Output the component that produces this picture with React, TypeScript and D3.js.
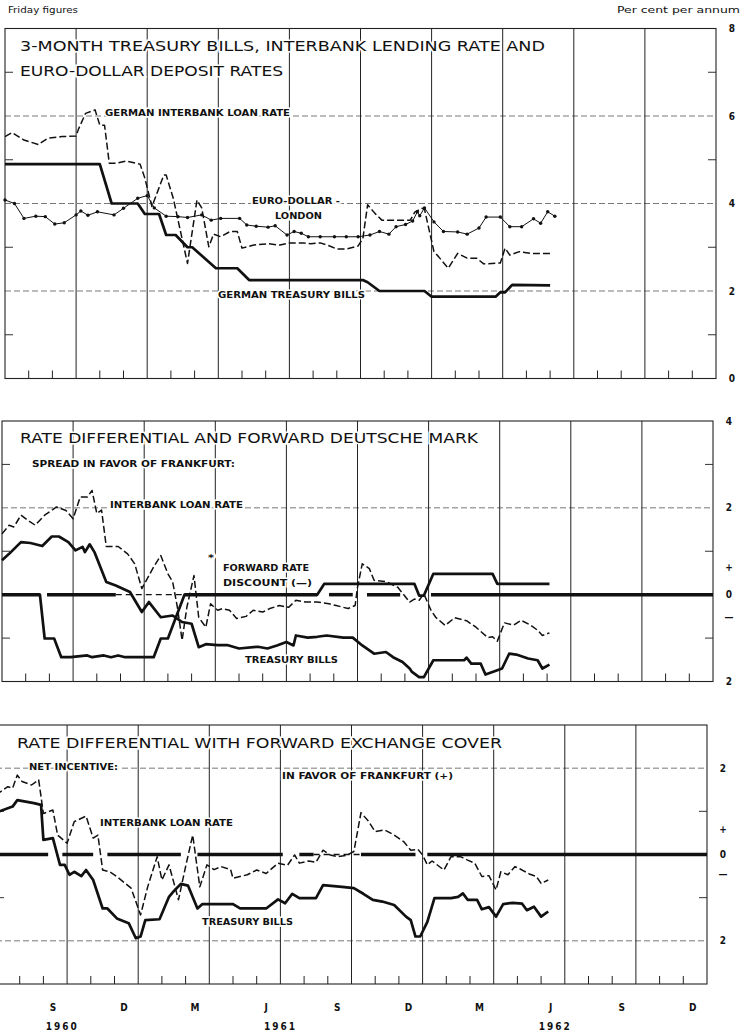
import React from "react";
import * as d3 from "d3";

// all series: [months since 1 July 1960, per cent]
const p1Interbank = [[0,5.53],[0.3,5.62],[0.8,5.45],[1.4,5.35],[1.8,5.49],[2.4,5.53],[3.0,5.54],[3.1,5.7],[3.4,6.06],[3.8,6.14],[4.0,5.79],[4.2,5.79],[4.4,4.92],[4.7,4.92],[5.1,4.97],[5.7,4.9],[5.9,4.58],[6.2,3.93],[6.7,4.65],[6.8,4.65],[7.1,4.12],[7.7,2.63],[8.1,4.08],[8.3,3.9],[8.6,3.01],[8.8,3.3],[9.1,3.24],[9.5,3.36],[9.8,3.36],[10.0,2.98],[10.5,3.05],[11.1,3.08],[11.6,3.05],[12.0,3.1],[12.6,3.1],[12.9,3.08],[13.3,3.1],[13.7,3.03],[14.0,2.96],[14.4,2.96],[14.9,3.03],[15.1,3.2],[15.3,3.97],[15.6,3.78],[15.9,3.62],[16.5,3.62],[17.1,3.62],[17.3,3.81],[17.6,3.89],[17.7,3.87],[18.1,2.9],[18.3,2.78],[18.7,2.52],[19.1,2.86],[19.5,2.75],[19.9,2.75],[20.2,2.62],[20.9,2.64],[21.1,2.98],[21.3,2.82],[21.7,2.9],[22.2,2.86],[23.0,2.86]];
const p1EuroDollar = [[0,4.08],[0.4,4.0],[0.8,3.66],[1.3,3.71],[1.7,3.7],[2.1,3.53],[2.5,3.56],[3.0,3.74],[3.2,3.83],[3.5,3.73],[3.9,3.81],[4.6,3.74],[5.0,3.89],[5.6,4.12],[6.0,4.18],[6.3,3.9],[6.8,3.71],[7.3,3.7],[7.7,3.68],[8.3,3.74],[8.7,3.62],[9.1,3.66],[9.9,3.66],[10.2,3.51],[10.6,3.48],[11.1,3.46],[11.4,3.49],[11.9,3.28],[12.2,3.36],[12.5,3.32],[12.8,3.24],[13.3,3.24],[13.9,3.24],[14.4,3.24],[14.9,3.24],[15.4,3.28],[15.8,3.36],[16.2,3.3],[16.5,3.47],[16.9,3.52],[17.2,3.6],[17.4,3.81],[17.5,3.72],[17.7,3.9],[18.1,3.58],[18.5,3.36],[19.1,3.35],[19.5,3.3],[20.0,3.44],[20.3,3.69],[20.9,3.69],[21.3,3.47],[21.8,3.47],[22.3,3.65],[22.6,3.55],[22.9,3.81],[23.2,3.71]];
const p1TreasuryBills = [[0,4.9],[4.0,4.9],[4.5,4.0],[5.6,4.0],[5.9,3.76],[6.5,3.76],[6.8,3.28],[7.2,3.28],[7.7,3.0],[7.9,3.0],[8.9,2.52],[9.8,2.52],[10.3,2.25],[15.1,2.25],[15.3,2.2],[15.8,2.0],[17.7,2.0],[18.0,1.87],[20.7,1.87],[20.9,1.97],[21.1,1.97],[21.4,2.14],[23.0,2.13]];

const p2Interbank = [[0,1.4],[0.3,1.6],[0.5,1.56],[0.8,1.83],[1.1,1.71],[1.4,1.6],[1.8,1.83],[2.3,2.02],[2.7,1.94],[3.0,1.75],[3.3,2.25],[3.6,2.25],[3.8,2.4],[4.0,1.87],[4.2,1.95],[4.4,1.11],[4.9,1.11],[5.3,0.94],[5.6,0.71],[5.9,0.14],[6.4,0.64],[6.7,0.9],[7.0,0.48],[7.2,0.3],[7.4,-0.29],[7.6,-1.05],[7.8,-0.29],[8.1,0.44],[8.3,-0.52],[8.6,-0.75],[8.8,-0.21],[9.1,-0.36],[9.3,-0.32],[9.6,-0.36],[9.9,-0.55],[10.3,-0.5],[10.6,-0.36],[11.0,-0.4],[11.3,-0.32],[11.7,-0.25],[12.1,-0.29],[12.4,-0.13],[12.8,-0.17],[13.3,-0.17],[13.8,-0.21],[14.1,-0.25],[14.6,-0.32],[14.9,-0.25],[15.0,0.17],[15.2,0.71],[15.5,0.6],[15.7,0.33],[16.2,0.3],[16.7,0.17],[17.2,-0.17],[17.4,-0.1],[17.6,-0.13],[17.8,0.02],[18.1,-0.36],[18.3,-0.52],[18.7,-0.71],[19.1,-0.53],[19.6,-0.6],[20.0,-0.75],[20.5,-0.99],[20.7,-0.97],[20.9,-1.07],[21.2,-0.65],[21.6,-0.7],[21.9,-0.59],[22.3,-0.7],[22.6,-0.82],[22.8,-0.94],[23.1,-0.88]];
const p2TreasuryBills = [[0,0.79],[0.3,0.94],[0.8,1.21],[1.2,1.19],[1.7,1.12],[2.1,1.34],[2.4,1.34],[2.8,1.21],[3.1,1.02],[3.4,1.1],[3.5,0.98],[3.7,1.16],[3.9,0.98],[4.4,0.29],[4.8,0.21],[5.4,0.06],[5.9,-0.4],[6.2,-0.17],[6.7,-0.52],[7.2,-0.48],[7.6,-0.63],[8.0,-0.67],[8.3,-1.21],[8.6,-1.14],[9.1,-1.16],[9.5,-1.16],[10.0,-1.24],[10.8,-1.2],[11.2,-1.24],[11.6,-1.17],[12.0,-1.09],[12.3,-1.17],[12.4,-0.94],[12.9,-0.99],[13.3,-0.97],[13.7,-0.94],[14.4,-0.99],[14.8,-0.99],[15.2,-1.17],[15.7,-1.36],[16.2,-1.32],[16.5,-1.44],[16.9,-1.55],[17.2,-1.7],[17.3,-1.78],[17.6,-1.9],[17.8,-1.9],[18.2,-1.51],[18.4,-1.51],[19.5,-1.51],[19.6,-1.45],[19.8,-1.59],[20.2,-1.59],[20.4,-1.84],[20.9,-1.74],[21.1,-1.7],[21.4,-1.36],[21.7,-1.38],[22.2,-1.47],[22.6,-1.51],[22.8,-1.7],[23.1,-1.61]];
const p2ForwardDiscount = [[0,0],[1.6,0],[1.8,-1.01],[2.2,-1.01],[2.5,-1.44],[2.9,-1.44],[3.6,-1.4],[3.8,-1.44],[4.3,-1.4],[4.6,-1.44],[4.9,-1.4],[5.2,-1.44],[6.4,-1.44],[6.7,-1.01],[7.0,-1.01],[7.7,0],[13.3,0],[13.6,0.25],[17.4,0.25],[17.6,-0.02],[17.8,-0.02],[18.2,0.48],[20.7,0.48],[20.9,0.25],[23.1,0.25]];
const p2ZeroSegments = [[0,1.6],[1.9,4.8],[7.7,13.3],[13.8,14.8],[15.4,16.8],[18.1,30]];
const p2ZeroThin = [[4.8,7.7]];

const p3Interbank = [[0,1.38],[0.5,1.57],[0.7,1.54],[0.9,1.84],[1.1,1.69],[1.5,1.61],[1.8,1.73],[2.0,0.95],[2.4,1.03],[2.6,0.45],[3.0,0.26],[3.3,0.76],[3.8,0.89],[4.1,0.38],[4.3,0.45],[4.5,-0.36],[4.8,-0.4],[5.1,-0.51],[5.7,-0.78],[6.1,-1.4],[6.4,-0.75],[6.8,-0.05],[7.0,-0.59],[7.3,-0.24],[7.7,-1.05],[8.0,-0.28],[8.3,0.45],[8.6,-0.75],[8.9,-0.24],[9.2,-0.35],[9.5,-0.28],[9.9,-0.35],[10.0,-0.55],[10.6,-0.47],[11.0,-0.36],[11.4,-0.44],[11.9,-0.2],[12.3,-0.25],[12.6,-0.01],[12.8,-0.2],[13.2,-0.15],[13.5,-0.18],[13.8,0.1],[14.1,-0.01],[14.4,-0.05],[14.8,-0.02],[15.1,0.07],[15.4,0.97],[15.7,0.78],[16.0,0.53],[16.4,0.57],[16.8,0.45],[17.2,0.3],[17.5,0.1],[17.8,0.12],[18.0,-0.01],[18.2,-0.24],[18.4,-0.15],[18.9,-0.36],[19.2,-0.05],[19.6,-0.05],[19.9,-0.13],[20.2,-0.2],[20.5,-0.51],[20.8,-0.49],[21.1,-0.82],[21.3,-0.4],[21.6,-0.47],[21.9,-0.28],[22.2,-0.36],[22.5,-0.45],[22.8,-0.51],[23.0,-0.67],[23.3,-0.59]];
const p3TreasuryBills = [[0,0.97],[0.7,1.11],[0.9,1.26],[1.6,1.19],[1.9,1.15],[2.0,0.34],[2.4,0.38],[2.7,-0.24],[2.9,-0.24],[3.1,-0.47],[3.3,-0.4],[3.6,-0.5],[3.8,-0.36],[4.1,-0.59],[4.5,-1.25],[4.7,-1.25],[5.1,-1.48],[5.6,-1.59],[5.9,-1.94],[6.1,-1.9],[6.3,-1.52],[6.9,-1.5],[7.3,-0.98],[7.5,-0.85],[7.8,-0.68],[8.1,-0.72],[8.5,-1.25],[8.7,-1.15],[10.0,-1.15],[10.3,-1.25],[11.4,-1.25],[11.9,-1.04],[12.2,-1.13],[12.5,-0.91],[12.8,-1.01],[13.5,-1.01],[13.8,-0.71],[14.6,-0.75],[15.1,-0.78],[15.5,-0.91],[15.9,-1.05],[16.3,-1.09],[16.8,-1.17],[17.3,-1.44],[17.5,-1.52],[17.7,-1.9],[17.9,-1.9],[18.2,-1.56],[18.5,-1.01],[19.2,-1.01],[19.5,-0.98],[19.7,-0.9],[19.9,-1.05],[20.3,-1.05],[20.5,-1.27],[20.8,-1.22],[21.1,-1.44],[21.4,-1.15],[21.8,-1.12],[22.2,-1.14],[22.4,-1.29],[22.7,-1.21],[23.0,-1.44],[23.3,-1.32]];
const p3ZeroSegments = [[0,2.2],[2.8,4.1],[4.7,7.8],[8.5,12.1],[12.8,13.4],[15.4,17.7],[18.2,30]];
const p3ZeroThin = [[13.4,15.4]];

const monthLabels = ["S", "D", "M", "J", "S", "D", "M", "J", "S", "D"];
const yearLabels = [["1960", 2.8], ["1961", 12], ["1962", 23.6]];

const p1RightLabels = [["8", 8], ["6", 6], ["4", 4], ["2", 2], ["0", 0]];
const p2RightLabels = [["4", 4], ["2", 2], ["+", 0.62], ["0", 0], ["—", -0.52], ["2", -2]];
const p3RightLabels = [["2", 2], ["+", 0.57], ["0", 0], ["—", -0.47], ["2", -2]];

const COND = "'DejaVu Sans Condensed', 'DejaVu Sans', sans-serif";
const TITLE = "'DejaVu Sans', sans-serif";

function Label({ x, y, w, children, size = 9, font = COND, weight = "bold", halo = true }) {
  return (
    <text
      x={x}
      y={y}
      textLength={w}
      lengthAdjust="spacingAndGlyphs"
      fontFamily={font}
      fontWeight={weight}
      fontSize={size}
      fill="#111"
      stroke={halo ? "#fff" : "none"}
      strokeWidth={3}
      paintOrder="stroke"
    >
      {children}
    </text>
  );
}

function Frame({ x0, top, bottom, domain, grid, ticks, labels }) {
  const x = d3.scaleLinear().domain([0, 30]).range([x0, x0 + 711]);
  const y = d3.scaleLinear().domain(domain).range([bottom, top]);
  const right = x(30);
  const months = d3.range(1, 30);
  return (
    <g>
      {grid.map((v) => (
        <line key={"g" + v} x1={x(0)} x2={right} y1={y(v)} y2={y(v)} stroke="#555" strokeWidth={0.8} strokeDasharray="6 3" />
      ))}
      {ticks.map((v) => (
        <g key={"t" + v}>
          <line x1={x(0)} x2={x(0) + 8} y1={y(v)} y2={y(v)} stroke="#333" strokeWidth={1} />
          <line x1={right - 8} x2={right} y1={y(v)} y2={y(v)} stroke="#333" strokeWidth={1} />
        </g>
      ))}
      {months.map((m) =>
        m % 3 === 0 ? (
          <line key={"m" + m} x1={x(m)} x2={x(m)} y1={top} y2={bottom} stroke="#222" strokeWidth={1} />
        ) : (
          <line key={"m" + m} x1={x(m)} x2={x(m)} y1={bottom - 8} y2={bottom} stroke="#222" strokeWidth={1} />
        )
      )}
      <rect x={x(0)} y={top} width={right - x(0)} height={bottom - top} fill="none" stroke="#222" strokeWidth={1.1} />
      {labels.map(([t, v], i) => (
        <text key={"l" + i} x={right + 16} y={y(v)} dy="0.35em" textAnchor="middle" fontFamily={COND} fontWeight="bold" fontSize={10} fill="#111">
          {t}
        </text>
      ))}
    </g>
  );
}

function Series({ x0, top, bottom, domain, data, width, dash, dots }) {
  const x = d3.scaleLinear().domain([0, 30]).range([x0, x0 + 711]);
  const y = d3.scaleLinear().domain(domain).range([bottom, top]);
  const path = d3.line().x((d) => x(d[0])).y((d) => y(d[1]))(data);
  return (
    <g>
      <path d={path} fill="none" stroke="#111" strokeWidth={width} strokeDasharray={dash} strokeLinejoin="round" />
      {dots && data.map((d, i) => <circle key={i} cx={x(d[0])} cy={y(d[1])} r={1.7} fill="#111" />)}
    </g>
  );
}

function ZeroLine({ x0, top, bottom, domain, segs, thin }) {
  const x = d3.scaleLinear().domain([0, 30]).range([x0, x0 + 711]);
  const y = d3.scaleLinear().domain(domain).range([bottom, top]);
  return (
    <g>
      {thin.map(([a, b], i) => (
        <line key={"t" + i} x1={x(a)} x2={x(b)} y1={y(0)} y2={y(0)} stroke="#111" strokeWidth={1.3} strokeDasharray="6 4" />
      ))}
      {segs.map(([a, b], i) => (
        <line key={i} x1={x(a)} x2={x(b)} y1={y(0)} y2={y(0)} stroke="#111" strokeWidth={3.5} />
      ))}
    </g>
  );
}

export default function App() {
  const p1 = { x0: 5, top: 28.5, bottom: 378.5, domain: [0, 8] };
  const p2 = { x0: 2, top: 421, bottom: 681.5, domain: [-2, 4] };
  const p3 = { x0: -4, top: 725, bottom: 984, domain: [-3, 3] };
  const xb = d3.scaleLinear().domain([0, 30]).range([p3.x0, p3.x0 + 711]);

  return (
    <svg width={743} height={1032} style={{ position: "absolute", left: 0, top: 0, background: "#fff" }}>
      <rect width={743} height={1032} fill="#fff" />
      <Label x={8} y={13} w={70} size={9} weight="normal" halo={false}>Friday figures</Label>
      <Label x={617} y={13} w={123} size={9} weight="normal" halo={false}>Per cent per annum</Label>

      {/* panel 1 */}
      <Frame {...p1} grid={[2, 4, 6]} ticks={[1, 3, 5, 7]} labels={p1RightLabels} />
      <Label x={20} y={51} w={525} size={14} font={TITLE} weight="normal">3-MONTH TREASURY BILLS, INTERBANK LENDING RATE AND</Label>
      <Label x={20} y={76} w={263} size={14} font={TITLE} weight="normal">EURO-DOLLAR DEPOSIT RATES</Label>
      <Label x={105} y={116} w={185}>GERMAN INTERBANK LOAN RATE</Label>
      <Label x={252} y={204} w={88}>EURO-DOLLAR -</Label>
      <Label x={275} y={219} w={47}>LONDON</Label>
      <Label x={218} y={298} w={147}>GERMAN TREASURY BILLS</Label>
      <Series {...p1} data={p1Interbank} width={1.5} dash="7 3" />
      <Series {...p1} data={p1EuroDollar} width={1} dots />
      <Series {...p1} data={p1TreasuryBills} width={2.7} />

      {/* panel 2 */}
      <Frame {...p2} grid={[2]} ticks={[3, 1, -1]} labels={p2RightLabels} />
      <Label x={20} y={443} w={458} size={14} font={TITLE} weight="normal">RATE DIFFERENTIAL AND FORWARD DEUTSCHE MARK</Label>
      <Label x={32} y={467} w={203}>SPREAD IN FAVOR OF FRANKFURT:</Label>
      <Label x={110} y={508} w={133}>INTERBANK LOAN RATE</Label>
      <Label x={208} y={561} w={6}>*</Label>
      <Label x={223} y={571} w={86}>FORWARD RATE</Label>
      <Label x={223} y={586} w={89}>DISCOUNT (—)</Label>
      <Label x={245} y={663} w={93}>TREASURY BILLS</Label>
      <ZeroLine {...p2} segs={p2ZeroSegments} thin={p2ZeroThin} />
      <Series {...p2} data={p2Interbank} width={1.5} dash="7 3" />
      <Series {...p2} data={p2ForwardDiscount} width={2.7} />
      <Series {...p2} data={p2TreasuryBills} width={2.7} />

      {/* panel 3 */}
      <Frame {...p3} grid={[2, -2]} ticks={[1, -1]} labels={p3RightLabels} />
      <Label x={17} y={748} w={485} size={14} font={TITLE} weight="normal">RATE DIFFERENTIAL WITH FORWARD EXCHANGE COVER</Label>
      <Label x={29} y={770} w={89}>NET INCENTIVE:</Label>
      <Label x={282} y={779} w={171}>IN FAVOR OF FRANKFURT (+)</Label>
      <Label x={100} y={826} w={133}>INTERBANK LOAN RATE</Label>
      <Label x={202} y={925} w={91}>TREASURY BILLS</Label>
      <ZeroLine {...p3} segs={p3ZeroSegments} thin={p3ZeroThin} />
      <Series {...p3} data={p3Interbank} width={1.5} dash="7 3" />
      <Series {...p3} data={p3TreasuryBills} width={2.7} />

      {/* time axis */}
      {monthLabels.map((t, i) => (
        <text key={i} x={xb(2.4 + 3 * i)} y={1011} textAnchor="middle" fontFamily={COND} fontWeight="bold" fontSize={10} fill="#111">
          {t}
        </text>
      ))}
      {yearLabels.map(([t, m]) => (
        <text key={t} x={xb(m)} y={1030} textAnchor="middle" fontFamily={COND} fontWeight="bold" fontSize={10} letterSpacing={2} fill="#111">
          {t}
        </text>
      ))}
    </svg>
  );
}
